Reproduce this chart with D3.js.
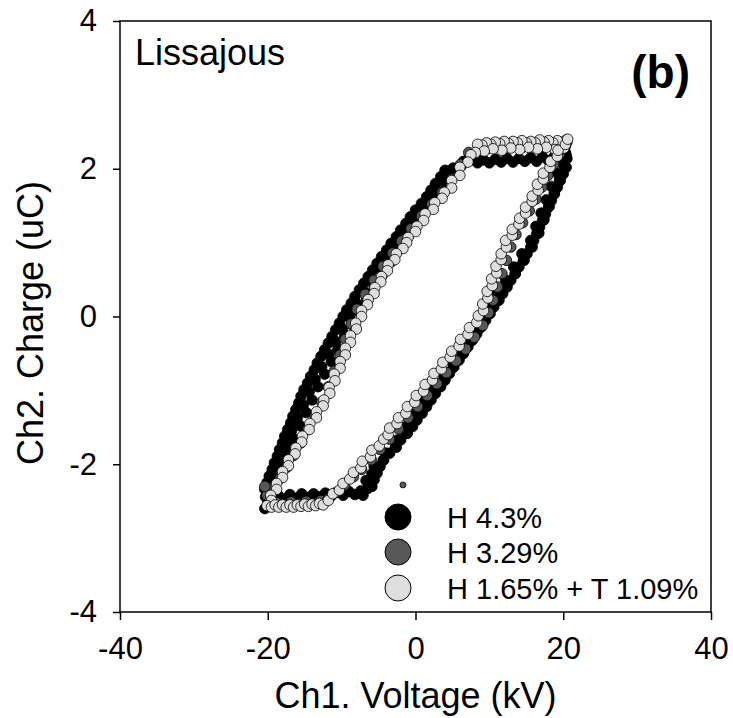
<!DOCTYPE html>
<html>
<head>
<meta charset="utf-8">
<script src="https://cdn.jsdelivr.net/npm/d3@7"></script>
<style>
  body { margin: 0; background: #fff; }
  svg { display: block; }
  text { font-family: "Liberation Sans", Arial, Helvetica, sans-serif; fill: #000; }
</style>
</head>
<body>
<svg id="chart" width="733" height="718"></svg>
<script>
// Axis ticks
const xTicks = [-40, -20, 0, 20, 40];
const yTicks = [-4, -2, 0, 2, 4];

// Legend labels, one per sample
const seriesLabels = ["H 4.3%", "H 3.29%", "H 1.65% + T 1.09%"];

// Lissajous figure: [voltage kV, charge uC] samples
const h43 = [
  // upper plateau
  [20.4,2.18],[19.6,2.12],[18.8,2.17],[18.0,2.11],[17.2,2.16],[16.4,2.10],[15.6,2.15],[14.8,2.10],[14.0,2.14],
  [13.2,2.09],[12.4,2.14],[11.6,2.09],[10.8,2.13],[10.0,2.08],[9.2,2.12],[8.4,2.08],[7.6,2.12],
  // falling branch
  [7.4,2.14],[6.5,2.10],[6.2,2.04],[5.1,2.01],[4.9,1.90],[3.7,1.84],[3.6,1.74],[2.4,1.67],[2.3,1.57],[1.0,1.51],
  [1.2,1.41],[-0.1,1.35],[0.1,1.25],[-1.2,1.18],[-1.0,1.08],[-2.4,1.01],[-2.2,0.91],[-3.6,0.84],[-3.3,0.74],
  [-4.7,0.67],[-4.5,0.56],[-5.9,0.50],[-5.6,0.40],[-6.9,0.33],[-6.6,0.23],[-7.9,0.17],[-7.6,0.06],[-8.9,0.00],
  [-8.6,-0.11],[-9.9,-0.17],[-9.6,-0.27],[-10.8,-0.34],[-10.5,-0.44],[-11.7,-0.51],[-11.4,-0.61],[-12.7,-0.68],
  [-12.3,-0.78],[-13.6,-0.85],[-13.2,-0.95],[-14.4,-1.02],[-14.0,-1.13],[-15.2,-1.20],[-14.8,-1.30],[-16.0,-1.37],
  [-15.6,-1.48],[-16.8,-1.55],[-16.4,-1.66],[-17.5,-1.73],[-17.1,-1.84],[-18.3,-1.91],[-17.9,-2.02],[-19.0,-2.09],
  [-18.6,-2.19],[-19.7,-2.26],[-19.3,-2.36],[-20.3,-2.44],[-20.0,-2.52],[-20.4,-2.60],
  // falling branch, second pass
  [4.0,1.98],[3.4,1.89],[2.7,1.80],[2.1,1.71],[1.5,1.62],[0.8,1.53],[0.0,1.44],[-0.7,1.35],[-1.3,1.26],[-2.0,1.17],
  [-2.6,1.08],[-3.3,0.99],[-3.9,0.90],[-4.6,0.81],[-5.2,0.72],[-5.8,0.63],[-6.4,0.54],[-7.0,0.45],[-7.6,0.36],[-8.2,0.27],
  [-8.7,0.18],[-9.3,0.09],[-9.8,0.00],[-10.3,-0.09],[-10.8,-0.18],[-11.3,-0.27],[-11.8,-0.36],[-12.3,-0.45],[-12.8,-0.54],
  [-13.3,-0.63],[-13.7,-0.72],[-14.2,-0.81],[-14.6,-0.90],[-15.1,-0.99],[-15.5,-1.08],[-15.8,-1.17],[-16.2,-1.26],
  [-16.6,-1.35],[-16.9,-1.44],[-17.3,-1.53],[-17.7,-1.62],[-18.0,-1.71],[-18.4,-1.80],[-18.7,-1.89],[-19.1,-1.98],
  [-19.4,-2.07],[-19.8,-2.16],[-20.1,-2.25],[-20.4,-2.34],
  // lower plateau
  [-19.4,-2.48],[-18.6,-2.42],[-17.8,-2.47],[-17.0,-2.41],[-16.2,-2.46],[-15.4,-2.40],[-14.6,-2.45],[-13.8,-2.40],
  [-13.0,-2.44],[-12.2,-2.39],[-11.4,-2.43],[-10.6,-2.38],[-9.8,-2.42],[-9.0,-2.37],[-8.2,-2.41],[-7.4,-2.36],
  // rising branch
  [-7.1,-2.42],[-6.5,-2.33],[-6.7,-2.22],[-5.9,-2.13],[-5.6,-2.03],[-4.4,-1.95],[-4.0,-1.85],[-2.6,-1.77],[-2.4,-1.67],
  [-1.1,-1.58],[-1.3,-1.49],[0.1,-1.40],[-0.1,-1.31],[1.3,-1.22],[1.1,-1.13],[2.5,-1.05],[2.4,-0.96],[3.8,-0.87],[3.7,-0.78],
  [5.1,-0.69],[4.9,-0.60],[6.3,-0.51],[6.1,-0.42],[7.5,-0.33],[7.4,-0.24],[8.8,-0.15],[8.6,-0.06],[10.0,0.04],[9.9,0.13],
  [11.3,0.22],[11.0,0.31],[12.4,0.40],[12.2,0.49],[13.5,0.58],[13.3,0.67],[14.7,0.76],[14.4,0.85],[15.8,0.94],[15.6,1.03],
  [16.7,1.13],[16.3,1.22],[17.4,1.31],[17.0,1.40],[18.1,1.49],[17.7,1.58],[18.8,1.67],[18.4,1.76],[19.5,1.85],[19.2,1.94],
  [20.1,2.04],[20.5,2.14],[20.3,2.22],
  // rising branch, second pass
  [-5.9,-2.30],[-5.6,-2.21],[-5.2,-2.12],[-4.8,-2.03],[-4.3,-1.94],[-3.5,-1.85],[-2.7,-1.76],[-2.0,-1.67],[-1.2,-1.58],
  [-0.4,-1.49],[0.2,-1.40],[0.9,-1.31],[1.5,-1.22],[2.1,-1.13],[2.7,-1.04],[3.4,-0.95],[4.0,-0.86],[4.6,-0.77],[5.2,-0.68],
  [5.9,-0.59],[6.5,-0.50],[7.1,-0.41],[7.7,-0.32],[8.3,-0.23],[8.9,-0.14],[9.5,-0.05],[10.1,0.04],[10.6,0.13],[11.2,0.22],
  [11.8,0.31],[12.3,0.40],[12.9,0.49],[13.5,0.58],[14.0,0.67],[14.6,0.76],[15.1,0.85],[15.6,0.94],[16.0,1.03],[16.4,1.12],
  [16.8,1.21],[17.2,1.30],[17.6,1.39],[18.0,1.48],[18.4,1.57],[18.8,1.66],[19.2,1.75],[19.6,1.84],[20.0,1.93],[20.4,2.02]
];

const h329 = [
  [20.5,2.36],[19.3,2.31],[18.1,2.34],[16.9,2.30],[15.7,2.33],[14.5,2.29],[13.3,2.32],[12.1,2.28],[10.9,2.31],[9.7,2.27],[8.5,2.30],
  [7.2,2.22],[6.1,2.06],[4.9,1.86],[3.6,1.68],[2.2,1.52],[0.8,1.36],[-0.6,1.19],[-1.9,1.02],[-3.1,0.86],[-4.4,0.68],
  [-5.6,0.49],[-6.8,0.30],[-7.9,0.10],[-8.7,-0.10],[-9.5,-0.31],[-10.2,-0.52],[-11.0,-0.74],[-11.8,-0.95],[-12.7,-1.16],
  [-13.6,-1.35],[-14.6,-1.53],[-15.5,-1.71],[-16.5,-1.88],[-17.4,-2.04],[-18.3,-2.19],[-19.2,-2.31],[-20.1,-2.42],[-20.4,-2.30],
  [-19.8,-2.55],[-18.8,-2.52],[-17.8,-2.55],[-16.8,-2.51],[-15.8,-2.54],[-14.8,-2.50],[-13.8,-2.53],[-12.8,-2.49],[-11.8,-2.47],
  [-10.7,-2.38],[-9.6,-2.28],[-8.4,-2.17],[-7.3,-2.07],[-6.0,-1.94],[-4.8,-1.80],[-3.5,-1.66],[-2.3,-1.52],[-1.0,-1.37],
  [0.3,-1.22],[1.6,-1.07],[2.9,-0.91],[4.2,-0.76],[5.5,-0.60],[6.8,-0.44],[8.0,-0.28],[9.1,-0.12],[9.9,0.05],[10.5,0.22],
  [11.1,0.40],[11.7,0.58],[12.3,0.76],[12.9,0.94],[13.6,1.11],[14.5,1.27],[15.4,1.43],[16.3,1.59],[17.1,1.75],[17.9,1.91],
  [18.7,2.06],[19.5,2.20],[20.3,2.31]
];

const h165t109 = [
  [20.4,2.39],[19.8,2.36],[19.2,2.38],[18.6,2.35],[18.0,2.38],[17.4,2.36],[16.8,2.39],[16.2,2.35],[15.6,2.37],[15.0,2.35],
  [14.4,2.38],[13.8,2.35],[13.2,2.37],[12.6,2.34],[12.0,2.37],[11.4,2.34],[10.8,2.36],[10.2,2.33],[9.6,2.35],[9.0,2.32],[8.4,2.33],
  [20.1,2.28],[18.9,2.26],[17.7,2.29],[16.5,2.27],[15.3,2.29],[14.1,2.26],[12.9,2.28],[11.7,2.25],[10.5,2.27],[9.3,2.24],[8.1,2.22],
  [7.5,2.19],[7.1,2.09],[6.0,2.02],[6.0,1.91],[4.9,1.84],[4.9,1.74],[3.9,1.68],[3.6,1.60],[2.6,1.54],[2.4,1.45],[1.3,1.39],
  [1.1,1.30],[0.2,1.22],[0.0,1.15],[-1.0,1.07],[-1.2,1.00],[-1.7,0.92],[-2.6,0.85],[-2.8,0.77],[-3.7,0.70],[-3.8,0.62],
  [-4.6,0.54],[-4.7,0.47],[-5.5,0.39],[-5.6,0.31],[-6.4,0.23],[-6.5,0.16],[-7.3,0.08],[-7.3,0.00],[-8.1,-0.09],[-8.0,-0.17],
  [-8.8,-0.26],[-8.8,-0.35],[-9.5,-0.43],[-9.5,-0.52],[-10.2,-0.61],[-10.2,-0.70],[-11.0,-0.78],[-10.9,-0.87],[-11.7,-0.96],
  [-11.6,-1.04],[-12.4,-1.13],[-12.5,-1.21],[-13.4,-1.29],[-13.4,-1.37],[-14.3,-1.45],[-14.4,-1.53],[-15.3,-1.62],[-15.4,-1.70],
  [-16.2,-1.78],[-16.3,-1.86],[-17.2,-1.94],[-17.2,-2.02],[-18.0,-2.10],[-18.0,-2.18],[-18.8,-2.26],[-18.8,-2.34],[-19.6,-2.42],
  [-19.5,-2.49],[-20.1,-2.56],
  [-19.5,-2.58],[-19.0,-2.55],[-18.5,-2.58],[-18.0,-2.55],[-17.5,-2.58],[-17.0,-2.55],[-16.5,-2.58],[-16.0,-2.55],[-15.5,-2.57],
  [-15.0,-2.54],[-14.5,-2.57],[-14.0,-2.54],[-13.5,-2.56],[-13.0,-2.53],[-12.5,-2.55],
  [-11.8,-2.49],[-11.2,-2.40],[-10.3,-2.35],[-9.8,-2.26],[-8.9,-2.20],[-8.4,-2.11],[-7.4,-2.05],[-7.2,-1.96],[-6.1,-1.90],
  [-5.9,-1.81],[-4.9,-1.75],[-4.3,-1.66],[-3.7,-1.60],[-3.5,-1.51],[-2.5,-1.45],[-2.3,-1.37],[-1.3,-1.31],[-1.1,-1.22],
  [-0.1,-1.16],[0.1,-1.07],[1.1,-1.01],[1.3,-0.92],[2.3,-0.86],[2.5,-0.77],[3.5,-0.71],[3.7,-0.62],[4.7,-0.55],[4.9,-0.47],
  [5.9,-0.40],[6.1,-0.31],[7.1,-0.24],[7.3,-0.15],[8.3,-0.08],[8.5,0.01],[9.2,0.08],[9.1,0.17],[9.8,0.25],[9.7,0.34],
  [10.4,0.42],[10.3,0.51],[11.0,0.59],[10.9,0.68],[11.6,0.77],[11.6,0.85],[12.3,0.94],[12.2,1.03],[13.1,1.10],[13.1,1.18],
  [14.0,1.25],[14.1,1.33],[14.9,1.40],[14.9,1.48],[15.8,1.56],[15.8,1.63],[16.6,1.71],[16.5,1.79],[17.3,1.86],[17.3,1.94],
  [18.2,2.02],[18.3,2.10],[19.2,2.17],[19.3,2.25],[20.3,2.33],[20.6,2.40]
];

// lone small marker sitting just above the legend
const strayPoint = [[-1.7, -2.28]];

const series = [
  { label: seriesLabels[0], data: h43,      fill: "#000000" },
  { label: seriesLabels[1], data: h329,     fill: "#585858" },
  { label: seriesLabels[2], data: h165t109, fill: "#dedede" }
];

const svg = d3.select("#chart");
const plot = { left: 120, top: 21, right: 711, bottom: 612 };

const x = d3.scaleLinear().domain([-40, 40]).range([plot.left, plot.right]);
const y = d3.scaleLinear().domain([-4, 4]).range([plot.bottom, plot.top]);

// Scatter markers, drawn black first so the lighter samples sit on top
series.forEach(s => {
  svg.append("g")
    .selectAll("circle")
    .data(s.data)
    .join("circle")
      .attr("cx", d => x(d[0]))
      .attr("cy", d => y(d[1]))
      .attr("r", 5.3)
      .attr("fill", s.fill)
      .attr("stroke", "#000")
      .attr("stroke-width", 0.8);
});

svg.append("g")
  .selectAll("circle")
  .data(strayPoint)
  .join("circle")
    .attr("cx", d => x(d[0]))
    .attr("cy", d => y(d[1]))
    .attr("r", 3)
    .attr("fill", "#585858")
    .attr("stroke", "#000")
    .attr("stroke-width", 0.8);

// Frame
svg.append("rect")
  .attr("x", plot.left).attr("y", plot.top)
  .attr("width", plot.right - plot.left).attr("height", plot.bottom - plot.top)
  .attr("fill", "none").attr("stroke", "#000").attr("stroke-width", 1.5);

// Axes
const xAxis = svg.append("g")
  .attr("transform", `translate(0,${plot.bottom})`)
  .call(d3.axisBottom(x).tickValues(xTicks).tickSize(8).tickSizeOuter(0).tickPadding(17));
const yAxis = svg.append("g")
  .attr("transform", `translate(${plot.left},0)`)
  .call(d3.axisLeft(y).tickValues(yTicks).tickSize(7).tickSizeOuter(0).tickPadding(16));

[xAxis, yAxis].forEach(g => {
  g.select(".domain").remove();
  g.selectAll(".tick line").attr("stroke", "#000").attr("stroke-width", 1.5);
  g.selectAll(".tick text")
    .attr("fill", "#000")
    .style("font-size", "31px")
    .style("font-family", "'Liberation Sans', Arial, sans-serif")
    .text(d => d < 0 ? "-" + Math.abs(d) : String(d));
});

// Axis titles
svg.append("text")
  .attr("x", (plot.left + plot.right) / 2)
  .attr("y", 708)
  .attr("text-anchor", "middle")
  .style("font-size", "36px")
  .text("Ch1. Voltage (kV)");

svg.append("text")
  .attr("transform", "translate(43,323) rotate(-90)")
  .attr("text-anchor", "middle")
  .style("font-size", "36px")
  .text("Ch2. Charge (uC)");

// Panel annotations
svg.append("text")
  .attr("x", 135).attr("y", 65)
  .style("font-size", "36px")
  .text("Lissajous");

svg.append("text")
  .attr("x", 690).attr("y", 88)
  .attr("text-anchor", "end")
  .style("font-size", "46px")
  .style("font-weight", "bold")
  .text("(b)");

// Legend
const legend = svg.append("g");
const legendY = [517, 552, 588];
series.forEach((s, i) => {
  legend.append("circle")
    .attr("cx", 398).attr("cy", legendY[i]).attr("r", 13)
    .attr("fill", s.fill).attr("stroke", "#000").attr("stroke-width", 1);
  legend.append("text")
    .attr("x", 447).attr("y", legendY[i] + 10.5)
    .style("font-size", "29px")
    .text(s.label);
});
</script>
</body>
</html>
